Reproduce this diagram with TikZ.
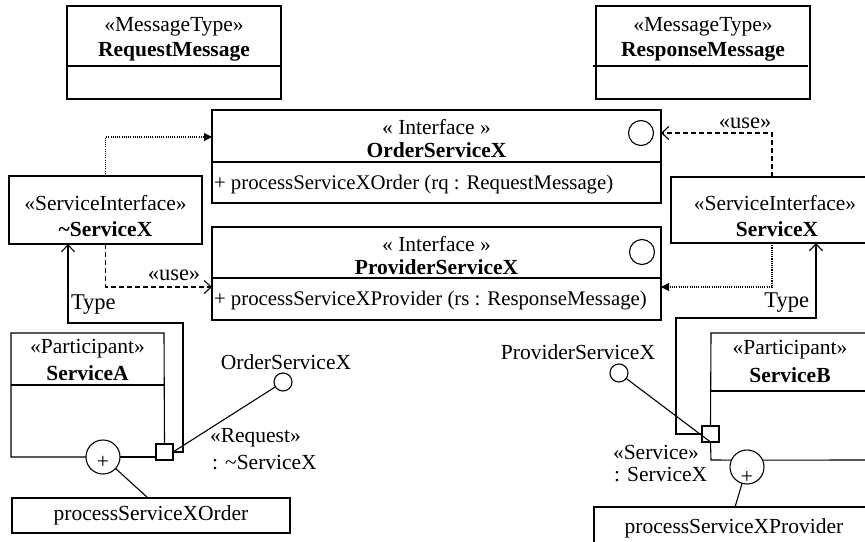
\documentclass[tikz,border=0pt]{standalone}
\usepackage{fontspec}
\setmainfont{Liberation Serif}
\usetikzlibrary{arrows.meta,calc}
\begin{document}
\begin{tikzpicture}[x=1pt,y=-1pt,
  every node/.style={inner sep=0pt, outer sep=0pt, font=\fontsize{21.5}{25}\selectfont},
  box/.style={draw, rectangle, line width=1.1pt},
  bt/.style={font=\fontsize{21.5}{25}\selectfont\bfseries},
  lbl/.style={font=\fontsize{22.5}{26}\selectfont},
  op/.style={anchor=west, font=\fontsize{20.8}{25}\selectfont},
  ln/.style={line width=1.1pt},
  thickdiv/.style={line width=1.9pt},
  dotline/.style={line width=1.1pt, dash pattern=on 1.1pt off 1.1pt},
  dashline/.style={line width=1.1pt, dash pattern=on 5pt off 3pt},
  filledtip/.style={-{Triangle[length=8pt,width=8pt]}},
  opentip/.style={-{Straight Barb[length=7pt,width=13pt,line width=1.1pt]}},
  portsq/.style={draw, rectangle, line width=1.1pt, minimum width=17, minimum height=16},
  plusc/.style={draw, circle, line width=1.1pt, minimum size=34},
  lolly/.style={draw, circle, line width=1.1pt, minimum size=18},
  ifc/.style={draw, circle, line width=1.1pt, minimum size=25}
]
\useasboundingbox (0,0) rectangle (865,541);
\clip (0,0) rectangle (865,541);

% Message types
\node[box, minimum width=214, minimum height=93] (reqm) at (174,52.5) {};
\draw[thickdiv] ($(reqm.north west)+(0,60)$) -- ($(reqm.north east)+(0,60)$);
\node (reqmS) at (174,27) {«MessageType»};
\node[bt] (reqmN) at (174,52) {RequestMessage};

\node[box, minimum width=214, minimum height=93] (resm) at (703,52.5) {};
\draw[thickdiv] ($(resm.north west)+(-3,60)$) -- ($(resm.north east)+(-2,60)$);
\node (resmS) at (703,27) {«MessageType»};
\node[bt] (resmN) at (703,52) {ResponseMessage};

% Interfaces
\node[box, minimum width=449, minimum height=93] (osx) at (436.5,156.5) {};
\draw[thickdiv] ($(osx.north west)+(0,52)$) -- ($(osx.north east)+(0,52)$);
\node (osxS) at (436.5,127) {« Interface »};
\node[bt] (osxN) at (436.5,150) {OrderServiceX};
\node[op] (osxOp) at (214,185) {+ processServiceXOrder (rq : RequestMessage)};
\node[ifc] (icO) at ($(osx.north east)+(-20,23)$) {};

\node[box, minimum width=449, minimum height=93] (psx) at (436.5,273.5) {};
\draw[thickdiv] ($(psx.north west)+(0,51)$) -- ($(psx.north east)+(0,51)$);
\node (psxS) at (436.5,244) {« Interface »};
\node[bt] (psxN) at (436.5,267) {ProviderServiceX};
\node[op] (psxOp) at (214,301) {+ processServiceXProvider (rs : ResponseMessage)};
\node[ifc] (icP) at ($(psx.north east)+(-19,25)$) {};

% Service interfaces
\node[box, minimum width=193, minimum height=68] (tsx) at (105.5,210) {};
\node (tsxS) at (105.5,203) {«ServiceInterface»};
\node[bt] (tsxN) at (105.5,229) {\textasciitilde ServiceX};

\node[box, minimum width=208, minimum height=66] (sx) at (775,210) {};
\node (sxS) at (775,203) {«ServiceInterface»};
\node[bt] (sxN) at (777,229) {ServiceX};

% dependencies
\draw[dotline, filledtip] (tsx.north) |- ($(osx.north west)+(0,27)$);
\draw[dashline, opentip] (tsx.south) |- ($(psx.north west)+(0,60)$);
\node[lbl] (useL) at (174,275) {«use»};
\draw[dashline, opentip] ($(sx.north west)+(101,0)$) |- ($(osx.north east)+(0,23)$);
\node[lbl] (useR) at (745,123) {«use»};
\draw[dotline, filledtip] ($(sx.south west)+(101,0)$) |- ($(psx.north east)+(0,60)$);

% Participant ServiceA
\node[minimum width=153, minimum height=124] (sa) at (87.5,395) {};
\node[portsq] (sqA) at (164.5,452) {};
\node[plusc] (plusA) at (103,457) {};
\node (plusAt) at (103,462) {+};
\draw[ln] (sqA.north) -- (sa.north east) -- (sa.north west) -- (sa.south west) -- (plusA.west);
\draw[ln] (plusA.east) -- (sqA.west |- plusA.east);
\draw[ln] ($(sa.north west)+(0,52)$) -- ($(sa.north east)+(0,52)$);
\node (saS) at (87.5,349) {«Participant»};
\node[bt] (saN) at (87.5,373) {ServiceA};

\node[box, minimum width=278, minimum height=35] (procA) at (151,515.5) {};
\node (procAt) at (151,515) {processServiceXOrder};
\coordinate (pa) at (148,498);
\draw[ln] (plusA) -- (pa);

\node[lolly] (lolA) at (283,382) {};
\node (lolAt) at (286,362) {OrderServiceX};
\draw[ln] (sqA.east) -- (lolA);
\node[anchor=west] (reqS) at (210,438) {«Request»};
\node[anchor=west] (reqT) at (212,463) {: \textasciitilde ServiceX};

\coordinate (tA1) at (183,323);
\draw[ln, opentip] (sqA.east) -| (tA1) -| ($(tsx.south west)+(59,0)$);
\node[lbl, anchor=west] (typeA) at (71,305) {Type};

% Participant ServiceB
\node[minimum width=189, minimum height=127] (sB) at (805.5,396.5) {};
\node[portsq] (sqB) at (710.5,434) {};
\node[plusc] (plusB) at (747,467) {};
\node (plusBt) at (747,477) {+};
\draw[ln] (sqB.north) -- (sB.north west) -- (sB.north east);
\draw[ln] (sqB.south) -- (sB.south west) -- (plusB.156);
\draw[ln] (plusB.24) -- (sB.south east);
\draw[ln] ($(sB.north west)+(0,58)$) -- ($(sB.north east)+(0,58)$);
\node (sBS) at (790,350) {«Participant»};
\node[bt] (sBN) at (790,375) {ServiceB};

\node[box, minimum width=306, minimum height=60] (procB) at (747,537) {};
\node (procBt) at (734,528) {processServiceXProvider};
\coordinate (pb) at (735,507);
\draw[ln] (plusB) -- (pb);

\node[lolly] (lolB) at (619,373) {};
\node (lolBt) at (578,352) {ProviderServiceX};
\draw[ln] (lolB) -- (sqB.south);
\node[anchor=west] (srvS) at (613,452) {«Service»};
\node[anchor=west] (srvT) at (614,475) {: ServiceX};

\coordinate (tB1) at (676,318);
\draw[ln, opentip] (sqB.west) -| (tB1) -| ($(sx.south west)+(145,0)$);
\node[lbl, anchor=east] (typeB) at (809,303) {Type};
\end{tikzpicture}
\end{document}
